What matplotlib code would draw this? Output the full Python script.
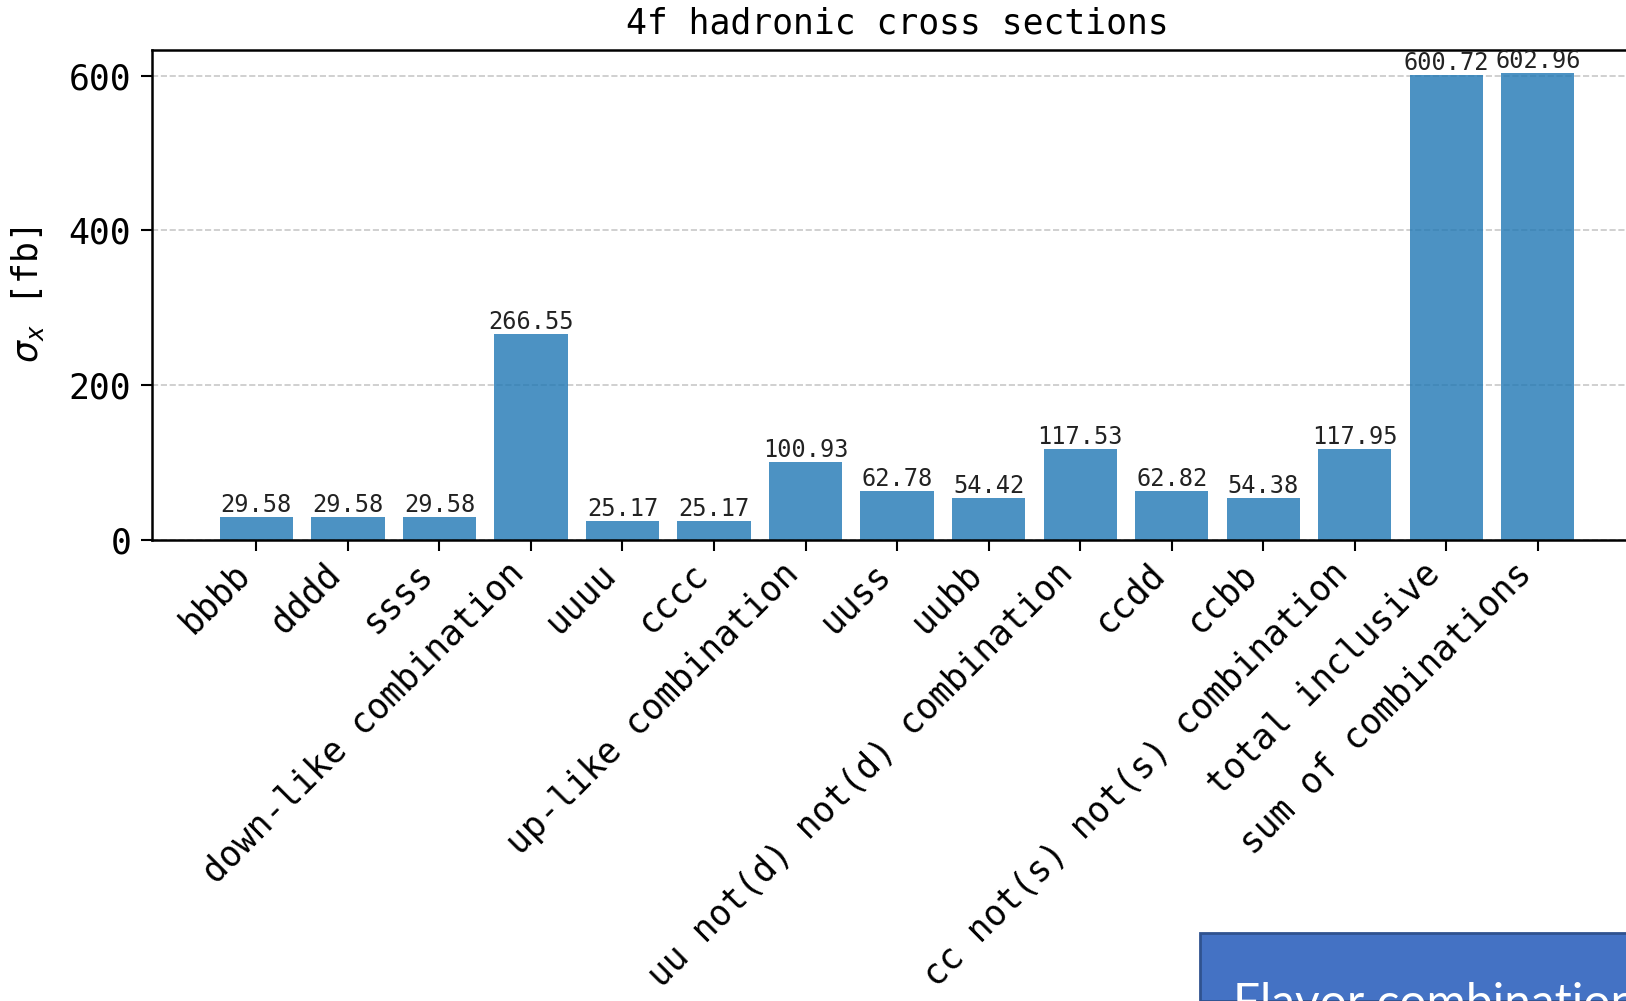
import numpy as np
import matplotlib
matplotlib.use('Agg')
import matplotlib.pyplot as plt
from matplotlib.patches import Rectangle

# 4f hadronic cross sections per flavour channel [fb]
channels = ['bbbb', 'dddd', 'ssss', 'down-like combination', 'uuuu', 'cccc',
            'up-like combination', 'uuss', 'uubb', 'uu not(d) not(d) combination',
            'ccdd', 'ccbb', 'cc not(s) not(s) combination', 'total inclusive',
            'sum of combinations']
xsec = [29.58, 29.58, 29.58, 266.55, 25.17, 25.17, 100.93, 62.78, 54.42,
        117.53, 62.82, 54.38, 117.95, 600.72, 602.96]
yticks = [0, 200, 400, 600]

plt.rcParams['font.family'] = 'DejaVu Sans Mono'
plt.rcParams['mathtext.fontset'] = 'dejavusans'

fig = plt.figure(figsize=(16.26, 10.01), dpi=100)
ax = fig.add_axes([0.0935, 0.4605, 0.9164, 0.4895])

x = np.arange(len(channels))
bars = ax.bar(x, xsec, width=0.8, color='#1f77b4', alpha=0.8)
ax.bar_label(bars, labels=[f'{v:.2f}' for v in xsec], fontsize=17, padding=0, color='#222222')

ax.set_xticks(x)
ax.set_xticklabels(channels, rotation=45, ha='right', fontsize=25)
ax.set_yticks(yticks)
ax.tick_params(axis='y', labelsize=25, length=8, width=1.5, pad=7)
ax.tick_params(axis='x', length=8, width=1.5)
ax.set_ylabel(r'$\sigma_x$ [fb]', fontsize=25, labelpad=16)
ax.set_title('4f hadronic cross sections', fontsize=25, pad=12)
ax.grid(axis='y', linestyle='--', color='#bbbbbb', alpha=0.8, linewidth=1.2)
ax.set_axisbelow(True)
for sp in ax.spines.values():
    sp.set_linewidth(1.8)

# slide overlay box in the corner (cut off by the screenshot edge, as in the source)
fig.patches.append(Rectangle((1200 / 1626, 0), 0.3, 68 / 1001, transform=fig.transFigure,
                             facecolor='#4472C4', edgecolor='#2F528F', linewidth=2, zorder=5))
fig.text(1233 / 1626, 19 / 1001, 'Flavor combinations', color='white', fontsize=34.5,
         family='Lato', va='top', ha='left', zorder=6)

plt.savefig('out.png', dpi=100)
plt.close()
